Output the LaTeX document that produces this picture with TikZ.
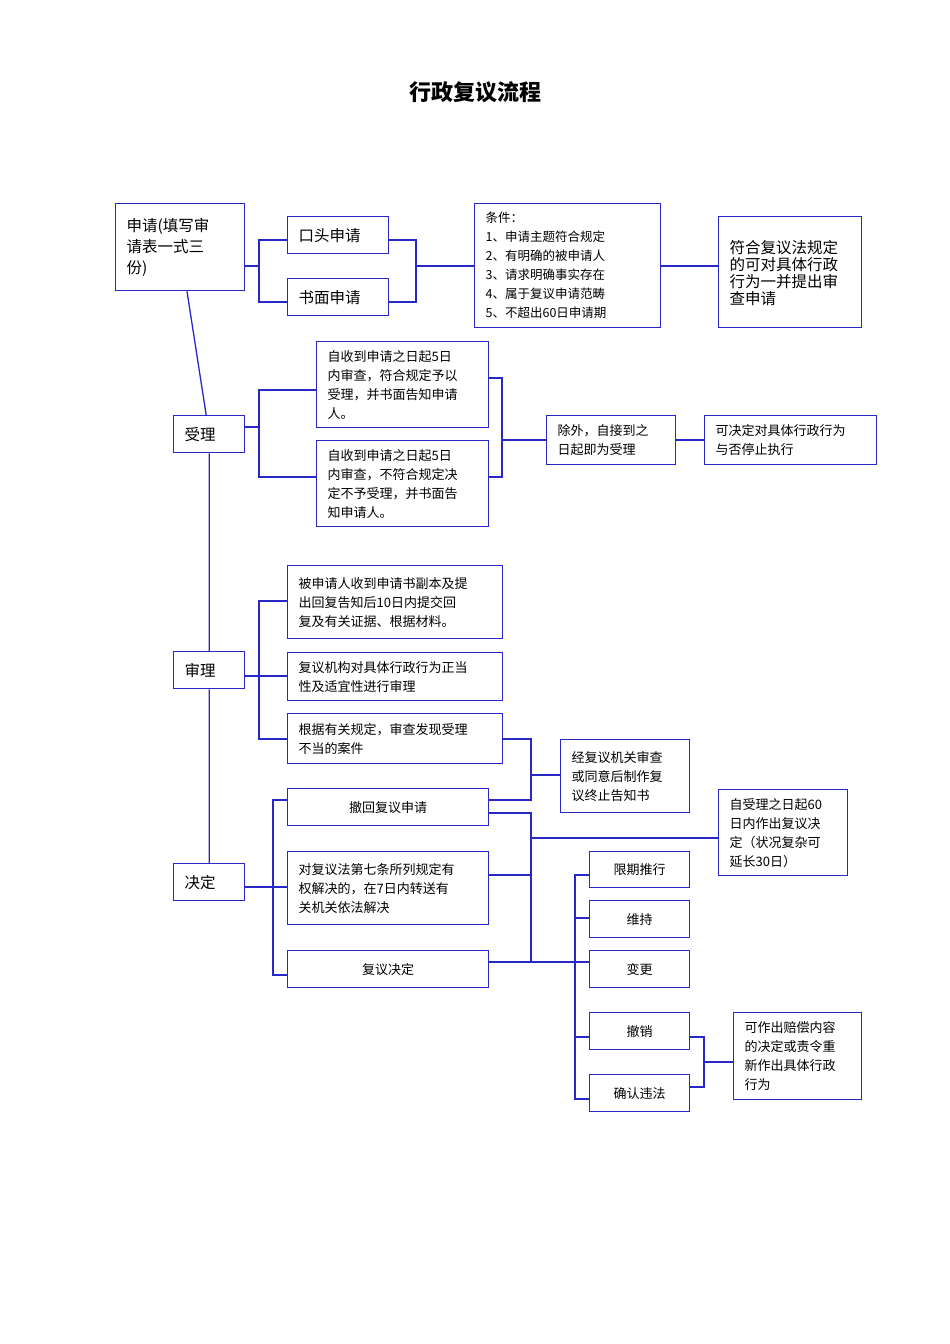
\documentclass[tikz,border=0pt]{standalone}
\usepackage{fontspec}
\setmainfont{Noto Sans CJK SC}
\definecolor{ln}{RGB}{40,40,200}
\newcommand\bx[7][]{\node[box,anchor=north west,minimum width={(#5-#3)*1pt},minimum height={(#6-#4)*1pt},text width={(#5-#3-22)*1pt},#1] (#2) at (#3,#4) {#7};}
\begin{document}
\begin{tikzpicture}[x=1pt,y=-1pt,line width=1.3pt,
  box/.style={draw=ln,rectangle,inner sep=0pt,align=left,font=\fontsize{13}{19}\selectfont},
  big/.style={font=\fontsize{15.5}{21}\selectfont},
  cn/.style={align=center},
  ln/.style={draw=ln,line width=1.3pt}]
\useasboundingbox (0,0) rectangle (950,1344);
\node[font=\fontsize{22}{26}\selectfont\bfseries] (title) at (475,92) {行政复议流程};
\bx[big]{apply}{115}{203}{244}{290}{申请(填写审\\请表一式三\\份)}
\bx[big]{oral}{287}{216}{388}{253}{口头申请}
\bx[big]{written}{287}{278}{388}{315}{书面申请}
\bx[font=\fontsize{12.5}{19}\selectfont]{cond}{474}{203}{660}{327}{条件：\\1、申请主题符合规定\\2、有明确的被申请人\\3、请求明确事实存在\\4、属于复议申请范畴\\5、不超出60日申请期}
\bx[big,font=\fontsize{15.5}{17}\selectfont,text depth=50pt]{fit}{718}{216}{861}{327}{符合复议法规定\\的可对具体行政\\行为一并提出审\\查申请}
\bx[big]{shouli}{173}{415}{244}{452}{受理}
\bx{a1}{316}{341}{488}{427}{自收到申请之日起5日\\内审查，符合规定予以\\受理，并书面告知申请\\人。}
\bx{a2}{316}{440}{488}{526}{自收到申请之日起5日\\内审查，不符合规定决\\定不予受理，并书面告\\知申请人。}
\bx{chuwai}{546}{415}{675}{464}{除外，自接到之\\日起即为受理}
\bx{kejue}{704}{415}{876}{464}{可决定对具体行政行为\\与否停止执行}
\bx[big]{shenli}{173}{651}{244}{688}{审理}
\bx{s1}{287}{565}{502}{638}{被申请人收到申请书副本及提\\出回复告知后10日内提交回\\复及有关证据、根据材料。}
\bx{s2}{287}{652}{502}{700}{复议机构对具体行政行为正当\\性及适宜性进行审理}
\bx{s3}{287}{713}{502}{763}{根据有关规定，审查发现受理\\不当的案件}
\bx{zz}{560}{739}{689}{812}{经复议机关审查\\或同意后制作复\\议终止告知书}
\bx[big]{jueding}{173}{863}{244}{900}{决定}
\bx[cn]{d1}{287}{788}{488}{825}{撤回复议申请}
\bx{d2}{287}{851}{488}{924}{对复议法第七条所列规定有\\权解决的，在7日内转送有\\关机关依法解决}
\bx[cn]{d3}{287}{950}{488}{987}{复议决定}
\bx{day}{718}{789}{847}{875}{自受理之日起60\\日内作出复议决\\定（状况复杂可\\延长30日）}
\bx[cn]{r1}{589}{851}{689}{887}{限期推行}
\bx[cn]{r2}{589}{900}{689}{937}{维持}
\bx[cn]{r3}{589}{950}{689}{987}{变更}
\bx[cn]{r4}{589}{1012}{689}{1049}{撤销}
\bx[cn]{r5}{589}{1074}{689}{1111}{确认违法}
\bx{comp}{733}{1012}{861}{1099}{可作出赔偿内容\\的决定或责令重\\新作出具体行政\\行为}
% main spine
\draw[ln] (apply) -- (shouli) (shouli) -- (shenli) (shenli) -- (jueding);
% apply
\draw[ln] (apply.east |- 0,266) -- (259,266);
\draw[ln] (oral.west |- 0,240) -| (259,302) -- (written.west |- 0,302);
\draw[ln] (oral.east |- 0,240) -| (416,302) -- (written.east |- 0,302);
\draw[ln] (416,266) -- (cond.west |- 0,266);
\draw[ln] (cond.east |- 0,266) -- (fit.west |- 0,266);
% shouli
\draw[ln] (shouli.east |- 0,427) -- (259,427);
\draw[ln] (a1.west |- 0,390) -| (259,477) -- (a2.west |- 0,477);
\draw[ln] (a1.east |- 0,378) -| (502,477) -- (a2.east |- 0,477);
\draw[ln] (502,440) -- (chuwai.west |- 0,440);
\draw[ln] (chuwai.east |- 0,440) -- (kejue.west |- 0,440);
% shenli
\draw[ln] (s1.west |- 0,601) -| (259,739) -- (s3.west |- 0,739);
\draw[ln] (shenli.east |- 0,676) -- (s2.west |- 0,676);
\draw[ln] (s3.east |- 0,739) -| (531,800) -- (d1.east |- 0,800);
\draw[ln] (531,775) -- (zz.west |- 0,775);
% jueding
\draw[ln] (jueding.east |- 0,887) -- (d2.west |- 0,887);
\draw[ln] (d1.west |- 0,800) -| (273,975) -- (d3.west |- 0,975);
\draw[ln] (d1.east |- 0,813) -| (531,962);
\draw[ln] (d2.east |- 0,875) -- (531,875);
\draw[ln] (531,838) -- (day.west |- 0,838);
\draw[ln] (d3.east |- 0,962) -- (r3.west |- 0,962);
\draw[ln] (r1.west |- 0,875) -| (575,1099) -- (r5.west |- 0,1099);
\draw[ln] (575,918) -- (r2.west |- 0,918);
\draw[ln] (575,1037) -- (r4.west |- 0,1037);
\draw[ln] (r4.east |- 0,1037) -| (704,1087) -- (r5.east |- 0,1087);
\draw[ln] (704,1062) -- (comp.west |- 0,1062);
\end{tikzpicture}
\end{document}
